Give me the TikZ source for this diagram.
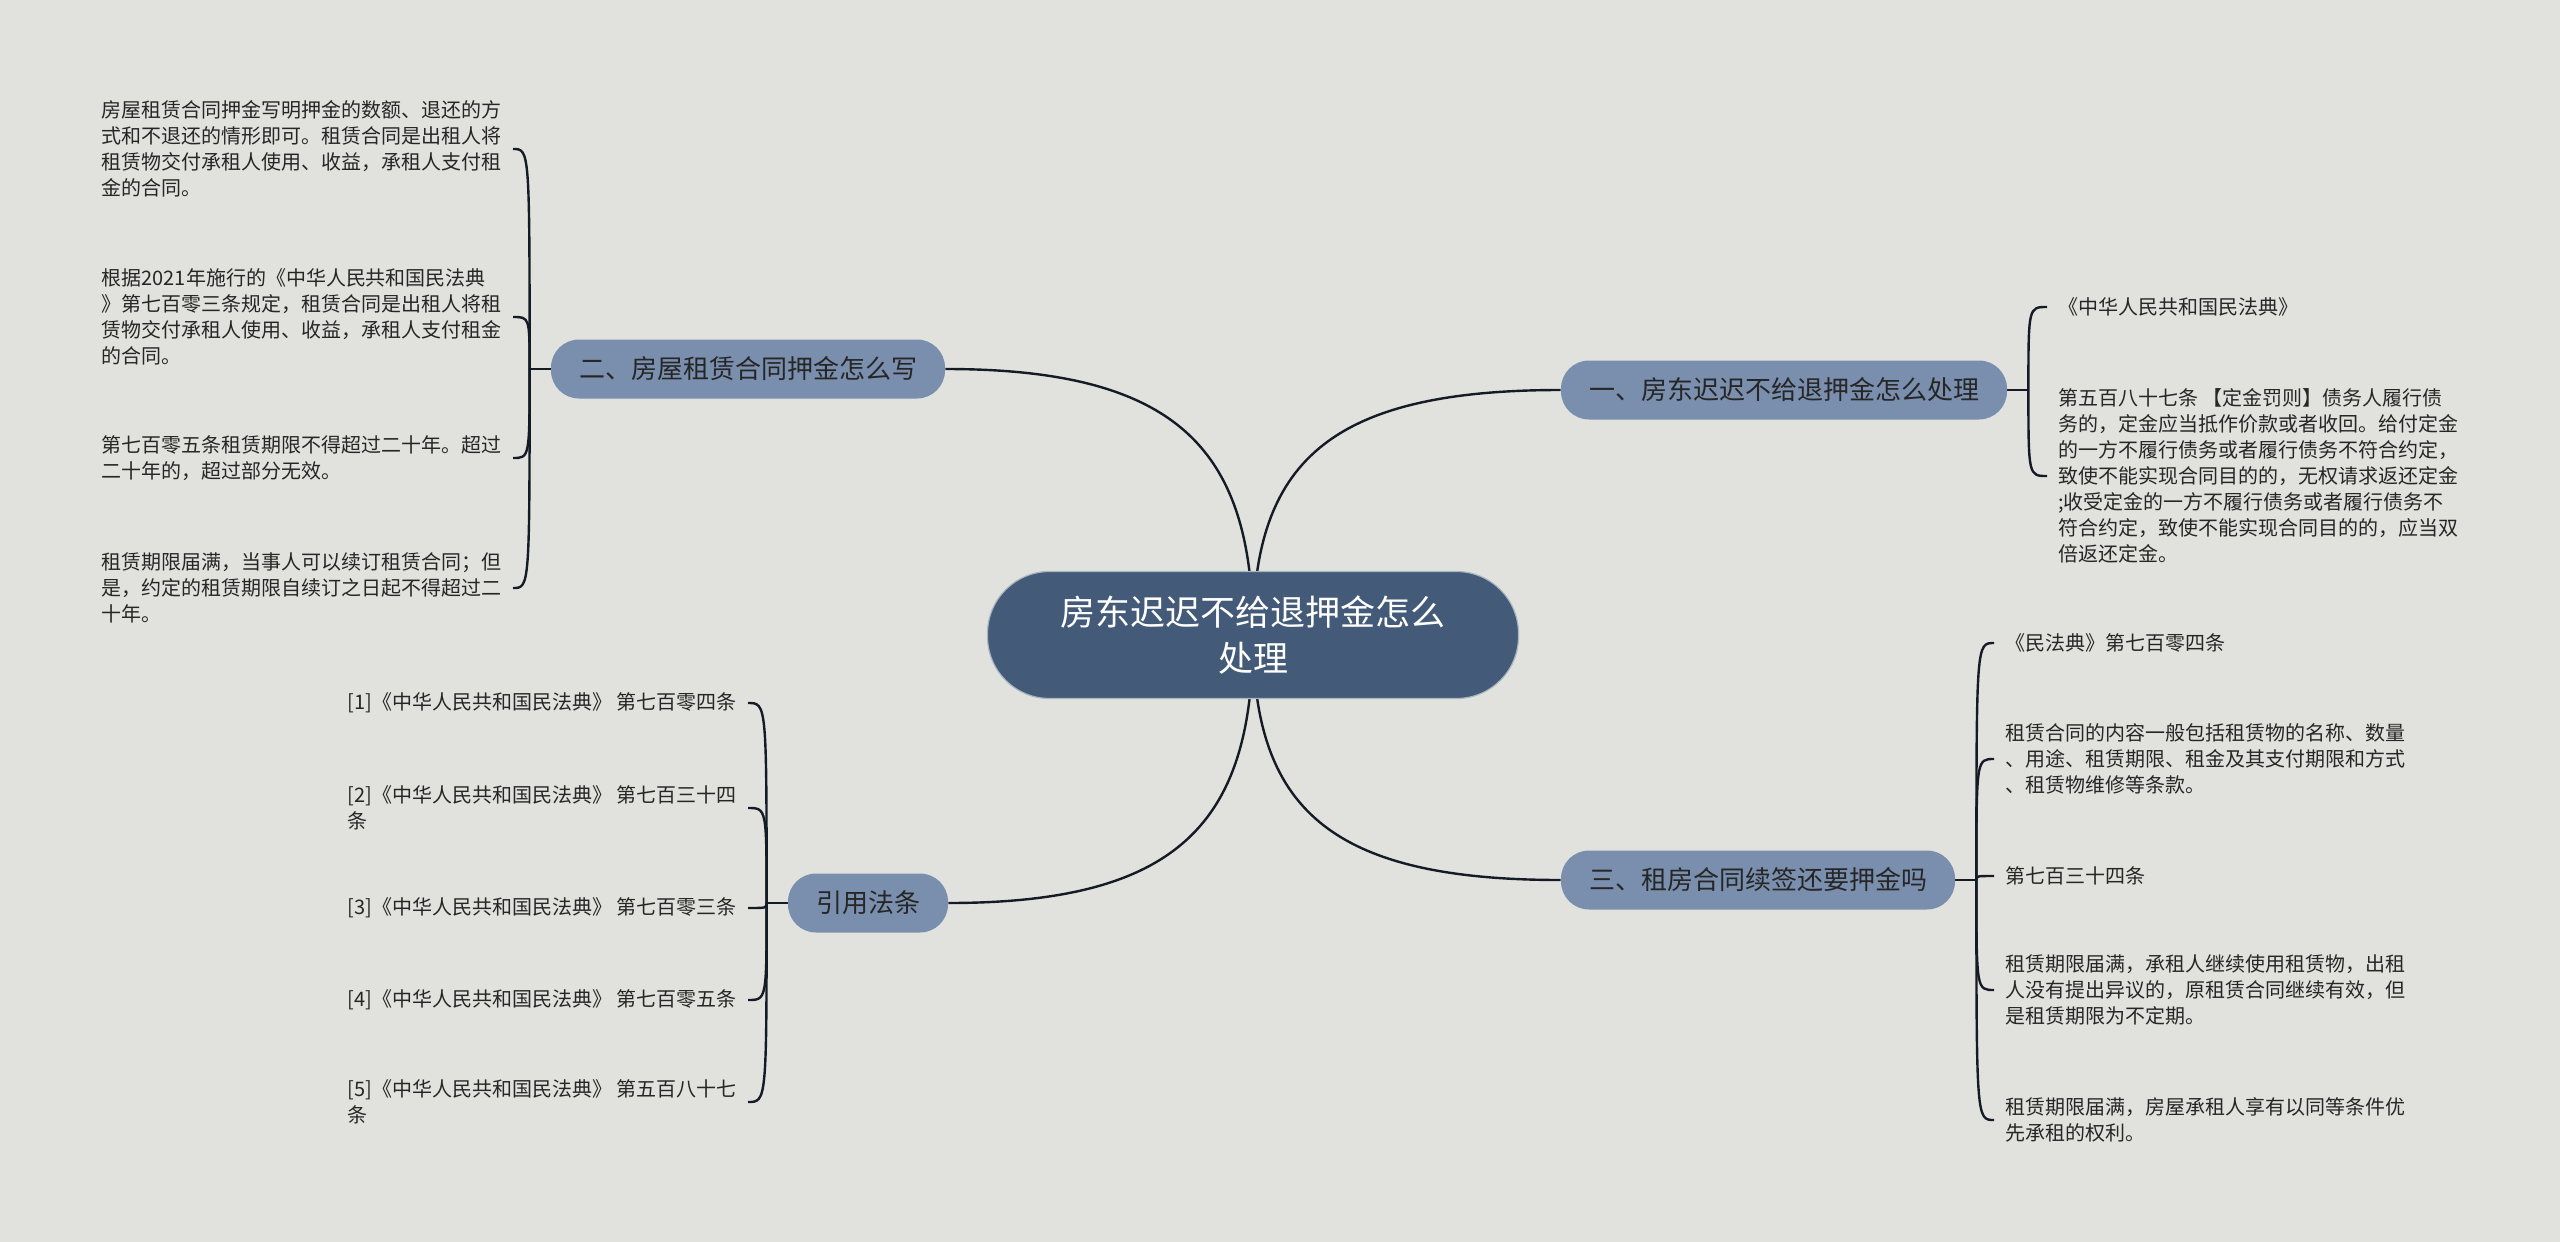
\documentclass[tikz,border=0pt]{standalone}
\usepackage{fontspec}
\setmainfont{Noto Sans CJK SC}
\usetikzlibrary{positioning}

\definecolor{bgcol}{HTML}{E1E2DD}
\definecolor{rootcol}{HTML}{435A78}
\definecolor{branchcol}{HTML}{7A8FAE}
\definecolor{linkcol}{HTML}{151B26}
\definecolor{txtcol}{HTML}{262626}

\pgfdeclarelayer{bg}
\pgfdeclarelayer{links}
\pgfsetlayers{bg,links,main}

\begin{document}
\begin{tikzpicture}[x=0.5pt,y=-0.5pt,
  root/.style={draw=white!55!rootcol,line width=0.6pt,fill=rootcol,text=white,rounded corners=31pt,
    minimum width=265.5pt,minimum height=63.5pt,align=center,font=\fontsize{17.5}{23}\selectfont},
  branch/.style={fill=branchcol,text=txtcol,rounded corners=14pt,minimum height=29.5pt,
    inner xsep=14pt,font=\fontsize{13}{16}\selectfont},
  leaf/.style={text=txtcol,align=left,inner xsep=5.5pt,inner ysep=1pt,font=\fontsize{10}{13}\selectfont},
  wire/.style={draw=linkcol,line width=1.2pt}]

% --- background ----------------------------------------------------------
\begin{pgfonlayer}{bg}
\fill[bgcol] (0,0) rectangle (2560,1242);
\end{pgfonlayer}

% --- root and branches ---------------------------------------------------
\node[root] (root) at (1253,635) {房东迟迟不给退押金怎么\\处理};
\node[branch] (b1) at (1784,390) {一、房东迟迟不给退押金怎么处理};
\node[branch] (b2) at (748,369) {二、房屋租赁合同押金怎么写};
\node[branch] (b3) at (1758,880) {三、租房合同续签还要押金吗};
\node[branch] (b4) at (868,903) {引用法条};

% --- leaves: 一 -----------------------------------------------------------
\node[leaf,anchor=west] (a1) at (2047,307) {《中华人民共和国民法典》};
\node[leaf,anchor=west] (a2) at (2047,476) {第五百八十七条 【定金罚则】债务人履行债\\务的，定金应当抵作价款或者收回。给付定金\\的一方不履行债务或者履行债务不符合约定，\\致使不能实现合同目的的，无权请求返还定金\\;收受定金的一方不履行债务或者履行债务不\\符合约定，致使不能实现合同目的的，应当双\\倍返还定金。};

% --- leaves: 二 -----------------------------------------------------------
\node[leaf,anchor=east] (l1) at (513,149) {房屋租赁合同押金写明押金的数额、退还的方\\式和不退还的情形即可。租赁合同是出租人将\\租赁物交付承租人使用、收益，承租人支付租\\金的合同。};
\node[leaf,anchor=east] (l2) at (513,317) {根据2021年施行的《中华人民共和国民法典\\》第七百零三条规定，租赁合同是出租人将租\\赁物交付承租人使用、收益，承租人支付租金\\的合同。};
\node[leaf,anchor=east] (l3) at (513,458) {第七百零五条租赁期限不得超过二十年。超过\\二十年的，超过部分无效。};
\node[leaf,anchor=east] (l4) at (513,588) {租赁期限届满，当事人可以续订租赁合同；但\\是，约定的租赁期限自续订之日起不得超过二\\十年。};

% --- leaves: 三 -----------------------------------------------------------
\node[leaf,anchor=west] (r1) at (1994,643) {《民法典》第七百零四条};
\node[leaf,anchor=west] (r2) at (1994,759) {租赁合同的内容一般包括租赁物的名称、数量\\、用途、租赁期限、租金及其支付期限和方式\\、租赁物维修等条款。};
\node[leaf,anchor=west] (r3) at (1994,876) {第七百三十四条};
\node[leaf,anchor=west] (r4) at (1994,990) {租赁期限届满，承租人继续使用租赁物，出租\\人没有提出异议的，原租赁合同继续有效，但\\是租赁期限为不定期。};
\node[leaf,anchor=west] (r5) at (1994,1120) {租赁期限届满，房屋承租人享有以同等条件优\\先承租的权利。};

% --- leaves: 引用法条 -----------------------------------------------------
\node[leaf,anchor=east] (c1) at (748,703) {[1]《中华人民共和国民法典》 第七百零四条};
\node[leaf,anchor=east] (c2) at (748,808) {[2]《中华人民共和国民法典》 第七百三十四\\条};
\node[leaf,anchor=east] (c3) at (748,908) {[3]《中华人民共和国民法典》 第七百零三条};
\node[leaf,anchor=east] (c4) at (748,1000) {[4]《中华人民共和国民法典》 第七百零五条};
\node[leaf,anchor=east] (c5) at (748,1102) {[5]《中华人民共和国民法典》 第五百八十七\\条};

% --- junctions -----------------------------------------------------------
\coordinate[right=10.5pt of b1] (j1);
\coordinate[left=10.5pt of b2] (j2);
\coordinate[right=10.5pt of b3] (j3);
\coordinate[left=10.5pt of b4] (j4);

% --- connectors ----------------------------------------------------------
\begin{pgfonlayer}{links}
\draw[wire] (root.center) .. controls +(0,-172) and +(-233,0) .. (b1.west);
\draw[wire] (root.center) .. controls +(0,-185) and +(233,0) .. (b2.east);
\draw[wire] (root.center) .. controls +(0,172) and +(-233,0) .. (b3.west);
\draw[wire] (root.center) .. controls +(0,188) and +(230,0) .. (b4.east);

\draw[wire] (b1.east) -- (j1);
\draw[wire] (b2.west) -- (j2);
\draw[wire] (b3.east) -- (j3);
\draw[wire] (b4.west) -- (j4);
\foreach \n in {a1,a2}
  \draw[wire] (j1) .. controls (j1 |- \n.west) .. (\n.west);
\foreach \n in {l1,l2,l3,l4}
  \draw[wire] (j2) .. controls (j2 |- \n.east) .. (\n.east);
\foreach \n in {r1,r2,r3,r4,r5}
  \draw[wire] (j3) .. controls (j3 |- \n.west) .. (\n.west);
\foreach \n in {c1,c2,c3,c4,c5}
  \draw[wire] (j4) .. controls (j4 |- \n.east) .. (\n.east);
\end{pgfonlayer}
\end{tikzpicture}
\end{document}
